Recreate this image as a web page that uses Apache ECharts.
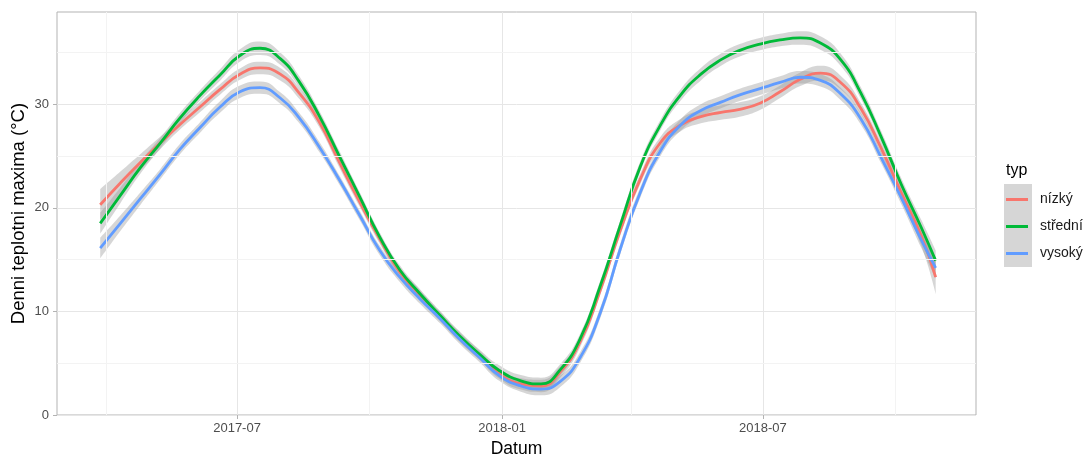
<!DOCTYPE html>
<html>
<head>
<meta charset="utf-8">
<script src="https://cdn.jsdelivr.net/npm/echarts@6/dist/echarts.min.js"></script>
<style>
  html, body { margin: 0; padding: 0; background: #fff; }
  #chart { width: 1086px; height: 455px; }
</style>
</head>
<body>
<div id="chart"></div>
<script>
// Smoothed daily maximum temperature by site type, with confidence bands
const dates = ['2017-03-28','2017-04-11','2017-04-25','2017-05-09','2017-05-22','2017-06-05','2017-06-19',
  '2017-07-03','2017-07-17','2017-07-31','2017-08-13','2017-08-27','2017-09-10','2017-09-24','2017-10-08',
  '2017-10-22','2017-11-05','2017-11-19','2017-12-02','2017-12-16','2017-12-30','2018-01-14','2018-01-28',
  '2018-02-10','2018-02-24','2018-03-10','2018-03-24','2018-04-07','2018-04-21','2018-05-05','2018-05-19',
  '2018-06-02','2018-06-15','2018-06-29','2018-07-13','2018-07-27','2018-08-10','2018-08-24','2018-09-07',
  '2018-09-21','2018-10-05','2018-10-19','2018-10-29'];

const nizky   = [20.3,22.4,24.4,26.3,28.0,29.7,31.4,32.9,33.5,32.9,31.1,28.3,24.4,20.6,17.0,13.8,11.6,9.5,7.6,5.8,
  4.0,3.0,2.8,4.1,7.0,12.0,17.8,22.8,26.3,28.0,28.8,29.2,29.5,30.1,31.2,32.4,33.0,32.1,29.6,25.8,21.5,17.3,13.3];
const stredni = [18.5,21.2,23.9,26.3,28.6,30.8,32.8,34.7,35.4,34.4,32.2,28.9,25.0,21.1,17.2,14.0,11.7,9.6,7.7,5.9,
  4.3,3.3,3.0,4.3,7.3,12.4,18.3,24.0,28.0,30.9,32.9,34.3,35.2,35.8,36.2,36.4,35.9,34.3,31.1,26.9,22.3,18.1,14.9];
const vysoky  = [16.1,18.5,20.9,23.3,25.6,27.7,29.7,31.2,31.6,30.6,28.7,25.9,22.7,19.3,15.9,13.3,11.2,9.3,7.4,5.6,
  3.8,2.8,2.5,3.2,5.5,9.8,16.0,21.5,25.5,28.0,29.4,30.2,30.9,31.5,32.1,32.6,32.3,31.0,28.6,24.9,21.0,16.9,14.2];

// half-widths of the confidence bands
const seNizky   = [1.5,1.1,0.8,0.6,0.5,0.5,0.5,0.55,0.6,0.6,0.55,0.5,0.5,0.45,0.45,0.45,0.45,0.45,0.45,0.45,
  0.5,0.55,0.6,0.55,0.5,0.5,0.5,0.5,0.55,0.6,0.65,0.7,0.7,0.65,0.6,0.65,0.7,0.65,0.55,0.55,0.65,0.95,1.6];
const seStredni = [1.0,0.75,0.6,0.5,0.5,0.5,0.55,0.6,0.65,0.6,0.55,0.5,0.5,0.45,0.45,0.45,0.45,0.45,0.45,0.45,
  0.5,0.55,0.6,0.55,0.5,0.5,0.5,0.5,0.5,0.55,0.6,0.6,0.6,0.6,0.6,0.65,0.65,0.6,0.55,0.55,0.6,0.75,1.0];
const seVysoky  = [1.0,0.75,0.6,0.5,0.5,0.5,0.55,0.6,0.6,0.55,0.5,0.5,0.45,0.45,0.45,0.45,0.45,0.45,0.45,0.45,
  0.5,0.55,0.6,0.55,0.5,0.5,0.5,0.5,0.5,0.55,0.6,0.6,0.6,0.6,0.6,0.6,0.6,0.6,0.55,0.55,0.6,0.75,1.0];

const groups = ['nízký', 'střední', 'vysoký'];
const colors = ['#F8766D', '#00BA38', '#619CFF'];

const xMajor = ['2017-07-01', '2018-01-01', '2018-07-01'];
const xMinor = ['2017-04-01', '2017-10-01', '2018-04-01', '2018-10-01'];
const yMajor = [0, 10, 20, 30];
const yMinor = [5, 15, 25, 35];
const xRange = ['2017-02-26', '2018-11-26'];
const yRange = [0, 38.9];

function ts(s) {
  const p = s.split('-').map(Number);
  return new Date(p[0], p[1] - 1, p[2]).getTime();
}
function pad(n) { return (n < 10 ? '0' : '') + n; }

const FONT = "'Liberation Sans', Arial, sans-serif";
const values = [nizky, stredni, vysoky];
const ses = [seNizky, seStredni, seVysoky];
const SMOOTH = 0.5;

const series = [];
// light grid lines (minor and major verticals, minor horizontals)
series.push({
  type: 'line', data: [], z: 1, silent: true,
  markLine: {
    silent: true, symbol: ['none', 'none'], label: { show: false }, animation: false,
    data: [].concat(
      xMajor.map(d => ({ xAxis: ts(d), lineStyle: { color: '#e6e6e6', width: 1, type: 'solid' } })),
      xMinor.map(d => ({ xAxis: ts(d), lineStyle: { color: '#f3f3f3', width: 1, type: 'solid' } })),
      yMinor.map(v => ({ yAxis: v, lineStyle: { color: '#f3f3f3', width: 1, type: 'solid' } }))
    )
  }
});

// bands: lower bound plus stacked width; the temperature is the first
// dimension so that the stack adds up along the y axis
groups.forEach((g, k) => {
  const v = values[k], se = ses[k];
  series.push({
    name: g + ' lo', type: 'line', stack: 'band' + k, smooth: SMOOTH, symbol: 'none', silent: true, z: 2,
    encode: { x: 1, y: 0 },
    lineStyle: { opacity: 0 },
    data: dates.map((d, i) => [+(v[i] - se[i]).toFixed(3), ts(d)])
  });
  series.push({
    name: g + ' band', type: 'line', stack: 'band' + k, smooth: SMOOTH, symbol: 'none', silent: true, z: 2,
    encode: { x: 1, y: 0 },
    lineStyle: { opacity: 0 },
    areaStyle: { color: 'rgba(153,153,153,0.4)', opacity: 1 },
    data: dates.map((d, i) => [+(2 * se[i]).toFixed(3), ts(d)])
  });
});
groups.forEach((g, k) => {
  series.push({
    name: g, type: 'line', smooth: SMOOTH, symbol: 'none', z: 3,
    color: colors[k],
    lineStyle: { color: colors[k], width: 2.8 },
    data: dates.map((d, i) => [ts(d), values[k][i]])
  });
});

const chart = echarts.init(document.getElementById('chart'), null, { renderer: 'canvas' });
chart.setOption({
  animation: false,
  backgroundColor: '#ffffff',
  textStyle: { fontFamily: FONT },
  title: {
    text: 'typ', left: 1001, top: 158,
    textStyle: { fontFamily: FONT, fontSize: 16, fontWeight: 'normal', color: '#000' }
  },
  graphic: [{
    type: 'rect', left: 1004, top: 184, z: -1,
    shape: { width: 28, height: 83 },
    style: { fill: '#d6d6d6' }
  }],
  legend: {
    data: groups, orient: 'vertical', left: 1006, top: 186, padding: 0, itemGap: 0,
    icon: 'rect', itemWidth: 22, itemHeight: 3,
    textStyle: { fontFamily: FONT, fontSize: 14, color: '#1a1a1a', lineHeight: 27, padding: [0, 0, 0, 7] },
    selectedMode: false
  },
  grid: {
    left: 57, right: 110, top: 12, bottom: 40,
    show: true, borderColor: '#b3b3b3', borderWidth: 1, backgroundColor: '#fff',
    outerBoundsMode: 'none', containLabel: false
  },
  xAxis: {
    type: 'value', min: ts(xRange[0]), max: ts(xRange[1]),
    name: 'Datum', nameLocation: 'middle', nameGap: 25, nameMoveOverlap: false,
    nameTextStyle: { fontFamily: FONT, fontSize: 17.5, color: '#000' },
    axisLine: { show: false },
    axisTick: { show: true, length: 4, lineStyle: { color: '#b3b3b3' }, customValues: xMajor.map(ts) },
    splitLine: { show: false },
    axisLabel: {
      customValues: xMajor.map(ts), margin: 7, color: '#4d4d4d', fontSize: 13, fontFamily: FONT,
      formatter: function (val) { const d = new Date(val); return d.getFullYear() + '-' + pad(d.getMonth() + 1); }
    }
  },
  yAxis: {
    type: 'value', min: yRange[0], max: yRange[1], interval: 10,
    name: 'Denni teplotni maxima (°C)', nameLocation: 'middle', nameGap: 29, nameRotate: 90, nameMoveOverlap: false,
    nameTextStyle: { fontFamily: FONT, fontSize: 18.5, color: '#000' },
    axisLine: { show: false },
    axisTick: { show: true, length: 4, lineStyle: { color: '#b3b3b3' }, customValues: yMajor },
    splitLine: { show: true, lineStyle: { color: '#e6e6e6', width: 1 } },
    axisLabel: { customValues: yMajor, margin: 8, color: '#4d4d4d', fontSize: 13, fontFamily: FONT }
  },
  series: series
});
</script>
</body>
</html>
